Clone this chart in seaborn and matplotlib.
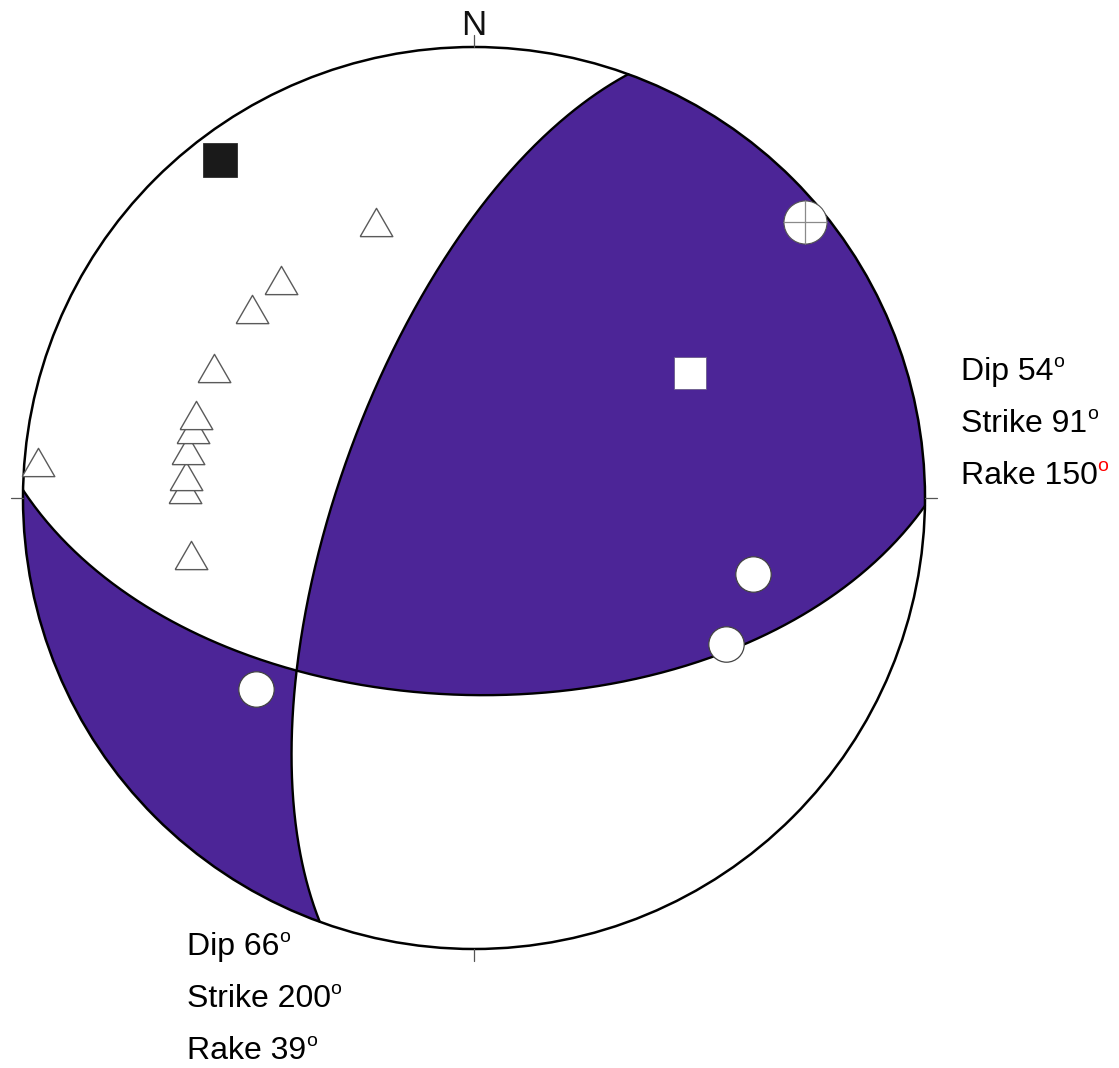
import numpy as np
import pandas as pd
import matplotlib
matplotlib.use("Agg")
import matplotlib.pyplot as plt
import seaborn as sns
from matplotlib.patches import Circle

# ---------------- data ----------------
# nodal planes (strike, dip, rake)
plane_strike = [91, 200]
plane_dip = [54, 66]
plane_rake = [150, 39]

# P axis (black square) and T axis (white square): trend, plunge
p_trend, p_plunge = [323], [7]
t_trend, t_plunge = [60], [44]

# open triangles: trend, plunge (drawn bottom to top)
tri_trend = [258.6, 271.7, 274.4, 279.6, 283.7, 286.6, 296.6, 310.5, 318.5, 340.4, 274.7]
tri_plunge = [36.2, 36.0, 36.1, 36.0, 36.0, 35.8, 35.8, 35.6, 35.6, 35.3, 3.3]

# white circles: trend, plunge
circ_trend = [105.2, 120.1, 228.8]
circ_plunge = [36.0, 35.7, 36.0]

# crossed circle
cross_trend, cross_plunge = [50.2], [5.0]

# labels
labels_right = ["Dip 54", "Strike 91", "Rake 150"]
labels_left = ["Dip 66", "Strike 200", "Rake 39"]

PURPLE = "#4c2597"

# ---------------- helpers ----------------
def project(trend, plunge):
    t = np.radians(np.asarray(trend, float))
    p = np.radians(np.asarray(plunge, float))
    E = np.cos(p) * np.sin(t)
    N = np.cos(p) * np.cos(t)
    z = np.sin(p)
    return E / np.sqrt(1 + z), N / np.sqrt(1 + z)

def normal(strike, dip):
    dd = np.radians(strike + 90)
    d = np.radians(dip)
    return np.array([np.sin(d) * np.sin(dd), np.sin(d) * np.cos(dd), np.cos(d)])

def great_circle(strike, dip, n=400):
    s = np.radians(strike)
    dd = np.radians(strike + 90)
    d = np.radians(dip)
    svec = np.array([np.sin(s), np.cos(s), 0.0])
    dvec = np.array([np.sin(dd) * np.cos(d), np.cos(dd) * np.cos(d), -np.sin(d)])
    t = np.linspace(0, np.pi, n)
    v = np.outer(np.cos(t), svec) + np.outer(np.sin(t), dvec)
    z = -v[:, 2]
    return v[:, 0] / np.sqrt(1 + z), v[:, 1] / np.sqrt(1 + z)

# ---------------- figure ----------------
sns.set_style("white")
plt.rcParams["font.family"] = ["Liberation Sans", "DejaVu Sans"]

W, H = 1119, 1068
CX, CY, R = 474, 498, 451
fig = plt.figure(figsize=(W / 100, H / 100), dpi=100)
ax = fig.add_axes([0, 0, 1, 1])
ax.set_xlim(-CX / R, (W - CX) / R)
ax.set_ylim(-(H - CY) / R, CY / R)
ax.set_axis_off()

def px(x, y):
    return (x - CX) / R, (CY - y) / R

# shaded compressional quadrants
g = np.linspace(-1.002, 1.002, 1400)
XX, YY = np.meshgrid(g, g)
rho = np.sqrt(XX ** 2 + YY ** 2)
rr = np.clip(rho, 0, 1.0)
theta = 2 * np.arcsin(rr / np.sqrt(2))
with np.errstate(invalid="ignore", divide="ignore"):
    ux = np.where(rho > 0, XX / rho, 0)
    uy = np.where(rho > 0, YY / rho, 0)
V = np.stack([np.sin(theta) * ux, np.sin(theta) * uy, -np.cos(theta)], axis=-1)
n1 = normal(plane_strike[0], plane_dip[0])
n2 = normal(plane_strike[1], plane_dip[1])
F = (V @ n1) * (V @ n2)
clip = Circle((0, 0), 1, transform=ax.transData)
cs = ax.contourf(XX, YY, F, levels=[0, F.max() + 1], colors=[PURPLE], zorder=1, antialiased=True)
cs.set_clip_path(clip)

# nodal planes
for s, d in zip(plane_strike, plane_dip):
    gx, gy = great_circle(s, d)
    sns.lineplot(x=gx, y=gy, sort=False, estimator=None, color="black", lw=1.7, ax=ax, zorder=3)

# primitive circle
ax.add_patch(Circle((0, 0), 1, fill=False, ec="black", lw=1.8, zorder=4))

# N/E/S/W ticks
tl = 12 / R
for (x0, y0, x1, y1) in [(0, 1, 0, 1 + tl), (1, 0, 1 + tl, 0), (0, -1, 0, -1 - tl), (-1, 0, -1 - tl, 0)]:
    ax.plot([x0, x1], [y0, y1], color="#555555", lw=0.9, zorder=4)

# markers
tri_marker = [(-1, -0.866), (1, -0.866), (0, 0.866), (-1, -0.866)]
tx, ty = project(tri_trend, tri_plunge)
for i in range(len(tx)):
    sns.scatterplot(x=[tx[i]], y=[ty[i]], marker=tri_marker, s=23.5 ** 2, color="white",
                    edgecolor="#5a5a5a", linewidth=1.0, ax=ax, zorder=5 + i * 0.01)

cx_, cy_ = project(circ_trend, circ_plunge)
sns.scatterplot(x=cx_, y=cy_, marker="o", s=25.5 ** 2, color="white",
                edgecolor="#444444", linewidth=0.9, ax=ax, zorder=6)

kx, ky = project(cross_trend, cross_plunge)
sns.scatterplot(x=kx, y=ky, marker="o", s=31 ** 2, color="white",
                edgecolor="#555555", linewidth=0.8, ax=ax, zorder=6)
ax.scatter(kx, ky, marker="+", s=31 ** 2, color="#8a8a8a", linewidths=0.9, zorder=7)

px_, py_ = project(p_trend, p_plunge)
sns.scatterplot(x=px_, y=py_, marker="s", s=24 ** 2, color="#1a1a1a",
                edgecolor="#1a1a1a", linewidth=0.5, ax=ax, zorder=6)
qx, qy = project(t_trend, t_plunge)
sns.scatterplot(x=qx, y=qy, marker="s", s=23 ** 2, color="white",
                edgecolor="#6a5a8a", linewidth=0.6, ax=ax, zorder=6)

# N label
ax.text(*px(474, 35), "N", fontsize=25, ha="center", va="baseline", color="#111111")

def label(x, y, txt, sup_color="black"):
    t = ax.text(*px(x, y), txt, fontsize=23, ha="left", va="baseline", color="black")
    ax.annotate("o", xy=(1, 1), xycoords=t, xytext=(-0.3, 2.0), textcoords="offset points",
                fontsize=14, color=sup_color, ha="left", va="top")

for i, txt in enumerate(labels_right):
    label(961, 380 + 52 * i, txt, "red" if i == 2 else "black")
for i, txt in enumerate(labels_left):
    label(187, 955 + 52 * i, txt)

fig.savefig("out.png", dpi=100)
